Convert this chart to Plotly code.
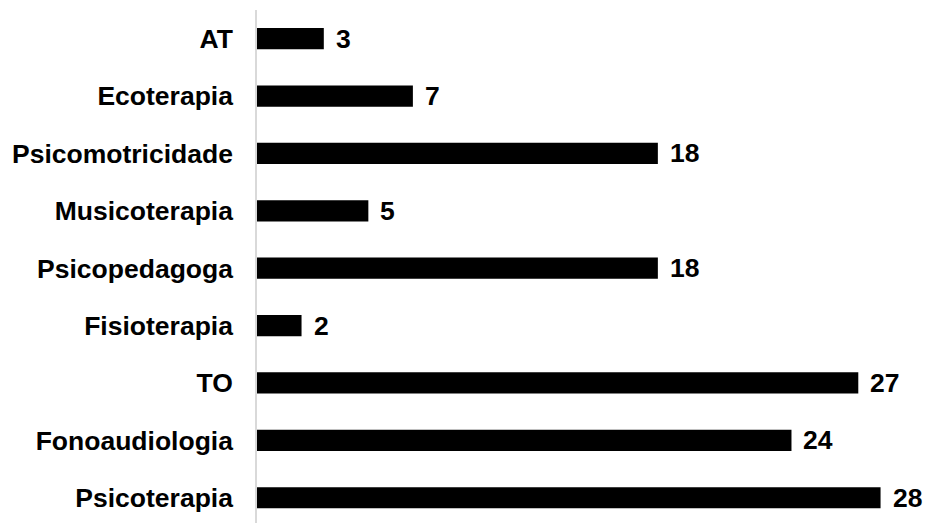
import plotly.graph_objects as go

# Therapy types (bottom to top) and counts
categories = ["Psicoterapia", "Fonoaudiologia", "TO", "Fisioterapia", "Psicopedagoga",
              "Musicoterapia", "Psicomotricidade", "Ecoterapia", "AT"]
values = [28, 24, 27, 2, 18, 5, 18, 7, 3]

FONT = "Liberation Sans, Arial, sans-serif"

fig = go.Figure(go.Bar(
    x=values,
    y=categories,
    orientation="h",
    marker=dict(color="#000000", line=dict(width=0)),
    hoverinfo="skip",
))

# value labels to the right of each bar
for v, c in zip(values, categories):
    fig.add_annotation(
        x=v, y=c, text=f"<b>{v}</b>", showarrow=False,
        xanchor="left", yanchor="middle", xshift=10,
        font=dict(family=FONT, size=26.5, color="#000000"),
    )

fig.update_layout(
    width=928, height=523,
    margin=dict(l=257, r=0, t=10, b=0),
    paper_bgcolor="white",
    plot_bgcolor="white",
    bargap=0.63,
    showlegend=False,
    xaxis=dict(range=[0, 30.13], visible=False, fixedrange=True),
    yaxis=dict(
        categoryorder="array", categoryarray=categories,
        range=[-0.44, 8.5],
        showline=True, linecolor="#d9d9d9", linewidth=1.5,
        showgrid=False, zeroline=False,
        ticks="outside", ticklen=17, tickcolor="rgba(0,0,0,0)",
        tickfont=dict(family=FONT, size=26.5, color="#000000", weight="bold"),
    ),
)

fig.write_html("out.html")
